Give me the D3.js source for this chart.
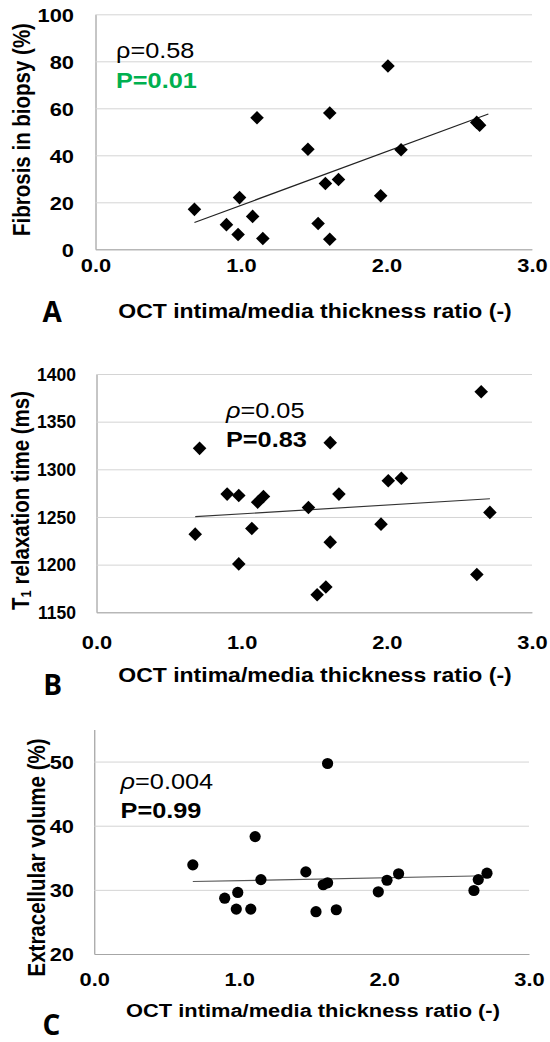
<!DOCTYPE html>
<html>
<head>
<meta charset="utf-8">
<script src="https://cdn.jsdelivr.net/npm/d3@7"></script>
<style>
  body { margin: 0; background: #fff; }
  svg { display: block; font-family: "Liberation Sans", Arial, sans-serif; }
</style>
</head>
<body>
<div id="chart"></div>
<script>
"use strict";

// panel A: fibrosis in biopsy
const aX = [0.68, 0.90, 0.98, 0.99, 1.08, 1.11, 1.15, 1.46, 1.53, 1.58, 1.61, 1.61, 1.67, 1.96, 2.01, 2.10, 2.62, 2.64];
const aY = [17, 10.5, 6.3, 22, 14, 56, 4.6, 42.6, 11, 28, 58, 4.3, 29.7, 22.8, 78, 42.4, 54, 52.8];
const aTrend = [[0.68, 11.4], [2.70, 57.6]];
const aTicks = [0, 20, 40, 60, 80, 100];

// panel B: T1 relaxation time
const bX = [0.68, 0.71, 0.90, 0.98, 0.98, 1.07, 1.11, 1.15, 1.46, 1.52, 1.58, 1.61, 1.61, 1.67, 1.96, 2.01, 2.10, 2.62, 2.65, 2.71];
const bY = [1232, 1322, 1274, 1272.5, 1200.8, 1238, 1265.5, 1271.4, 1260, 1168.5, 1176.6, 1328, 1223.6, 1274, 1242.5, 1288, 1290.6, 1189.7, 1381.4, 1254.8];
const bTrend = [[0.68, 1250.3], [2.71, 1269.1]];
const bTicks = [1150, 1200, 1250, 1300, 1350, 1400];

// panel C: extracellular volume
const cX = [0.68, 0.90, 0.98, 0.99, 1.08, 1.11, 1.15, 1.46, 1.53, 1.58, 1.61, 1.61, 1.67, 1.96, 2.02, 2.10, 2.62, 2.65, 2.71];
const cY = [33.9, 28.7, 27.0, 29.6, 27.0, 38.3, 31.6, 32.8, 26.6, 30.8, 49.7, 31.1, 26.9, 29.7, 31.5, 32.5, 29.9, 31.6, 32.6];
const cTrend = [[0.68, 31.3], [2.71, 32.2]];
const cTicks = [20, 30, 40, 50];

const xTicks = [0, 1, 2, 3];
const xTitle = "OCT intima/media thickness ratio (-)";

const SX = 1.15; // the figure is a bit wider than its fonts

const svg = d3.select("#chart").append("svg")
    .attr("width", 550)
    .attr("height", 1042);

function stretch(x, y) { return "translate(" + x + "," + y + ") scale(" + SX + ",1)"; }

function drawPanel(p) {
    const g = svg.append("g");
    const x = d3.scaleLinear().domain([0, 3]).range([p.x0, p.x1]);
    const y = d3.scaleLinear().domain(p.yDomain).range([p.yBot, p.yTop]);
    const w = p.x1 - p.x0;

    // y axis + gridlines
    const yAxis = g.append("g")
        .attr("transform", "translate(" + p.x0 + ",0)")
        .call(d3.axisLeft(y).tickValues(p.yTicks).tickFormat(d3.format("d"))
            .tickSize(-w).tickSizeOuter(0).tickPadding(0));
    yAxis.select(".domain").attr("stroke", "#8c8c8c");
    yAxis.selectAll(".tick line").attr("stroke", "#d4d4d4");
    yAxis.selectAll(".tick text")
        .attr("x", 0)
        .attr("dy", "0.36em")
        .attr("transform", "translate(" + (p.labRight - p.x0) + ",0) scale(" + p.yLabSX + ",1)")
        .style("font-size", p.yLabSize + "px").style("font-weight", "bold").attr("fill", "#000")
        .style("font-family", "Liberation Sans, Arial, sans-serif");

    // x axis
    const xAxis = g.append("g")
        .attr("transform", "translate(0," + p.yBot + ")")
        .call(d3.axisBottom(x).tickValues(xTicks).tickFormat(d3.format(".1f")).tickSize(0));
    xAxis.select(".domain").attr("stroke", "#a6a6a6");
    xAxis.selectAll(".tick text")
        .attr("y", 0).attr("dy", null)
        .attr("transform", "translate(0," + p.xLabOff + ") scale(" + SX + ",1)")
        .style("font-size", "19px").style("font-weight", "bold").attr("fill", "#000")
        .style("font-family", "Liberation Sans, Arial, sans-serif");

    // trend line
    g.append("path")
        .attr("d", d3.line().x(d => x(d[0])).y(d => y(d[1]))(p.trend))
        .attr("stroke", p.trendColor)
        .attr("stroke-width", 1.2)
        .attr("fill", "none");

    // points
    const pts = d3.zip(p.xs, p.ys);
    if (p.marker == "diamond") {
        const sym = d3.symbol().type(d3.symbolSquare).size(92);
        g.selectAll("path.pt").data(pts).enter().append("path")
            .attr("class", "pt")
            .attr("d", sym)
            .attr("transform", d => "translate(" + x(d[0]) + "," + y(d[1]) + ") rotate(45)")
            .attr("fill", "#000");
    } else {
        g.selectAll("circle.pt").data(pts).enter().append("circle")
            .attr("class", "pt")
            .attr("cx", d => x(d[0]))
            .attr("cy", d => y(d[1]))
            .attr("r", 5.6)
            .attr("fill", "#000");
    }

    // stats
    const rho = g.append("text")
        .attr("transform", stretch(p.stat.x, p.stat.y1))
        .style("font-size", "22px");
    rho.append("tspan").text("ρ").style("font-style", p.stat.italic ? "italic" : "normal");
    rho.append("tspan").text(p.stat.rho);
    g.append("text")
        .attr("transform", stretch(p.stat.x, p.stat.y2))
        .style("font-size", "22px").style("font-weight", "bold")
        .attr("fill", p.stat.pColor)
        .text(p.stat.p);

    // axis titles
    g.append("text")
        .attr("transform", stretch(p.xTitle[0], p.xTitle[1]))
        .attr("text-anchor", "middle")
        .style("font-size", p.xTitleSize + "px").style("font-weight", "bold")
        .text(xTitle);

    const yt = g.append("text")
        .attr("transform", stretch(p.yTitle[0], p.yTitle[1]) + " rotate(-90)")
        .attr("text-anchor", "middle")
        .style("font-size", "20.5px").style("font-weight", "bold");
    p.yTitleParts.forEach(part => {
        const t = yt.append("tspan").text(part.t);
        if (part.sub) t.style("font-size", "13px").attr("baseline-shift", "-2");
    });

    // panel letter
    g.append("text")
        .attr("x", p.letter[1]).attr("y", p.letter[2])
        .style("font-family", "Open Sans, sans-serif")
        .style("font-size", "28px").style("font-weight", "bold")
        .text(p.letter[0]);
}

drawPanel({
    xs: aX, ys: aY, trend: aTrend, trendColor: "#222", yTicks: aTicks, yDomain: [0, 100],
    x0: 95.5, x1: 532, yTop: 14.3, yBot: 249.3, labRight: 74, yLabSize: 19, yLabSX: SX, xLabOff: 22.3,
    xTitle: [315, 318.3], xTitleSize: 20,
    yTitle: [29.5, 129.5], yTitleParts: [{t: "Fibrosis in biopsy (%)"}],
    stat: {x: 116, y1: 58.3, y2: 88.3, rho: "=0.58", p: "P=0.01", pColor: "#00b050", italic: false},
    letter: ["A", 42.6, 321.7], marker: "diamond"
});

drawPanel({
    xs: bX, ys: bY, trend: bTrend, trendColor: "#333", yTicks: bTicks, yDomain: [1150, 1400],
    x0: 96.5, x1: 532, yTop: 374, yBot: 612.3, labRight: 76, yLabSize: 17.5, yLabSX: 1, xLabOff: 37,
    xTitle: [315, 681.7], xTitleSize: 20,
    yTitle: [29.3, 500.5], yTitleParts: [{t: "T"}, {t: "1", sub: true}, {t: " relaxation time (ms)"}],
    stat: {x: 226, y1: 418.3, y2: 447.3, rho: "=0.05", p: "P=0.83", pColor: "#000", italic: true},
    letter: ["B", 43.3, 695], marker: "diamond"
});

drawPanel({
    xs: cX, ys: cY, trend: cTrend, trendColor: "#555", yTicks: cTicks, yDomain: [20, 55],
    x0: 94.3, x1: 529, yTop: 729.5, yBot: 954, labRight: 74, yLabSize: 19, yLabSX: SX, xLabOff: 32,
    xTitle: [313, 1016.7], xTitleSize: 19,
    yTitle: [45, 857.5], yTitleParts: [{t: "Extracellular volume (%)"}],
    stat: {x: 120.6, y1: 789, y2: 818.3, rho: "=0.004", p: "P=0.99", pColor: "#000", italic: true},
    letter: ["C", 42.6, 1035], marker: "circle"
});
</script>
</body>
</html>
